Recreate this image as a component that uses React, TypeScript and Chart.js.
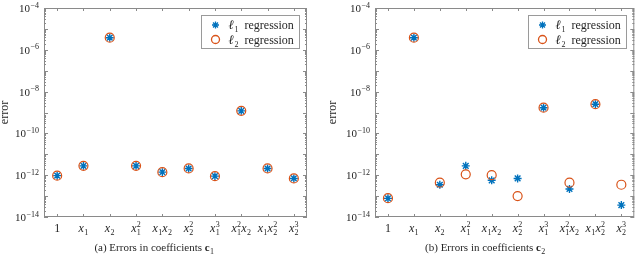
import React, { useEffect, useRef } from 'react';
import { Chart, registerables } from 'chart.js';

Chart.register(...registerables);

// ---------- data ----------
const categories = ['1', 'x_1', 'x_2', 'x_1^2', 'x_1x_2', 'x_2^2', 'x_1^3', 'x_1^2x_2', 'x_1x_2^2', 'x_2^3'];

// Panel (a): errors in coefficients c1
const c1L1 = [9.5e-13, 2.8e-12, 3.8e-6, 2.8e-12, 1.4e-12, 2.1e-12, 9e-13, 1.2e-9, 2.1e-12, 7e-13];
const c1L2 = [9.5e-13, 2.8e-12, 3.8e-6, 2.8e-12, 1.4e-12, 2.1e-12, 9e-13, 1.2e-9, 2.1e-12, 7e-13];

// Panel (b): errors in coefficients c2
const c2L1 = [7.8e-14, 3.8e-6, 3.5e-13, 2.8e-12, 5.7e-13, 7e-13, 1.7e-9, 2.2e-13, 2.5e-9, 3.7e-14];
const c2L2 = [8e-14, 3.8e-6, 4.4e-13, 1.1e-12, 1.0e-12, 1.0e-13, 1.7e-9, 4.4e-13, 2.5e-9, 3.5e-13];

const yMin = 1e-14;
const yMax = 1e-4;
const yLabelExponents = [-14, -12, -10, -8, -6, -4];
const seriesSubscripts = ['1', '2'];
const seriesName = 'regression';
const yTitle = 'error';
const captionTags = ['(a)', '(b)'];
const captionText = 'Errors in coefficients';
const captionSubs = ['1', '2'];

// ---------- style ----------
const SERIF = '"Liberation Serif", "DejaVu Serif", serif';
const TEXT = '#262626';
const BOX = '#8a8a8a';
const BLUE = '#0072BD';
const ORANGE = '#D95319';

function drawMathLabel(ctx: CanvasRenderingContext2D, label: string, cx: number, baseline: number, size: number) {
  const re = /([A-Za-z0-9])(?:_(\d))?(?:\^(\d))?/g;
  const parts: { base: string; sub?: string; sup?: string }[] = [];
  let m: RegExpExecArray | null;
  while ((m = re.exec(label))) parts.push({ base: m[1], sub: m[2], sup: m[3] });
  const ss = Math.round(size * 0.7);
  const baseFont = (b: string) => (/[a-z]/i.test(b) ? `italic ${size}px ${SERIF}` : `${size}px ${SERIF}`);
  const scriptFont = `${ss}px ${SERIF}`;
  const widths = parts.map((p) => {
    ctx.font = baseFont(p.base);
    const bw = ctx.measureText(p.base).width;
    ctx.font = scriptFont;
    const sw = Math.max(p.sub ? ctx.measureText(p.sub).width : 0, p.sup ? ctx.measureText(p.sup).width : 0);
    return { bw, sw: sw ? sw + 0.5 : 0 };
  });
  const total = widths.reduce((s, w) => s + w.bw + w.sw, 0);
  let x = cx - total / 2;
  ctx.textAlign = 'left';
  ctx.textBaseline = 'alphabetic';
  parts.forEach((p, i) => {
    ctx.font = baseFont(p.base);
    ctx.fillText(p.base, x, baseline);
    x += widths[i].bw;
    ctx.font = scriptFont;
    if (p.sub) ctx.fillText(p.sub, x + 0.3, baseline + size * 0.28);
    if (p.sup) ctx.fillText(p.sup, x + 0.3, baseline - size * 0.42);
    x += widths[i].sw;
  });
}

function drawStar(ctx: CanvasRenderingContext2D, x: number, y: number, r: number) {
  ctx.beginPath();
  ctx.moveTo(x - r, y); ctx.lineTo(x + r, y);
  ctx.moveTo(x, y - r); ctx.lineTo(x, y + r);
  const d = r * Math.SQRT1_2;
  ctx.moveTo(x - d, y - d); ctx.lineTo(x + d, y + d);
  ctx.moveTo(x - d, y + d); ctx.lineTo(x + d, y - d);
  ctx.stroke();
}

type PanelProps = {
  idx: number;
  l1: number[];
  l2: number[];
  padLeft: number;
  yWidth: number;
  padRight: number;
  titleLH: number;
  captionCenter: number;
};

function Panel({ idx, l1, l2, padLeft, yWidth, padRight, titleLH, captionCenter }: PanelProps) {
  const ref = useRef<HTMLCanvasElement>(null);
  useEffect(() => {
    const decor = {
      id: 'decor' + idx,
      afterDraw(chart: any) {
        const { ctx, chartArea: a, scales } = chart;
        const xs = scales.x;
        const ys = scales.y;
        ctx.save();
        // box
        ctx.strokeStyle = BOX;
        ctx.lineWidth = 1;
        ctx.strokeRect(a.left + 0.5, a.top + 0.5, a.right - a.left - 1, a.bottom - a.top - 1);
        // inward ticks
        ctx.beginPath();
        for (let e = -14; e <= -4; e++) {
          for (let k = 1; k <= 9; k++) {
            if (e === -4 && k > 1) break;
            const py = Math.round(ys.getPixelForValue(k * Math.pow(10, e))) + 0.5;
            const len = k === 1 ? 4 : 2;
            ctx.moveTo(a.left, py); ctx.lineTo(a.left + len, py);
            ctx.moveTo(a.right, py); ctx.lineTo(a.right - len, py);
          }
        }
        for (let i = 0; i < categories.length; i++) {
          const px = Math.round(xs.getPixelForTick(i)) + 0.5;
          ctx.moveTo(px, a.bottom); ctx.lineTo(px, a.bottom - 3);
          ctx.moveTo(px, a.top); ctx.lineTo(px, a.top + 3);
        }
        ctx.stroke();
        ctx.fillStyle = TEXT;
        // y tick labels: 10^e
        ctx.textBaseline = 'alphabetic';
        yLabelExponents.forEach((e) => {
          const py = ys.getPixelForValue(Math.pow(10, e));
          const exp = '\u2212' + String(Math.abs(e));
          ctx.font = `8px ${SERIF}`;
          const ew = ctx.measureText(exp).width;
          ctx.textAlign = 'right';
          const right = a.left - 5;
          ctx.fillText(exp, right, py - 0.5);
          ctx.font = `11px ${SERIF}`;
          ctx.fillText('10', right - ew - 0.5, py + 4);
        });
        // x tick labels
        for (let i = 0; i < categories.length; i++) {
          drawMathLabel(ctx, categories[i], xs.getPixelForTick(i), a.bottom + 15, 12);
        }
        // legend
        const bw = 98, bh = 33;
        const bx = Math.round(a.right - 8 - bw) + 0.5;
        const by = Math.round(a.top + 7) + 0.5;
        ctx.fillStyle = '#ffffff';
        ctx.fillRect(bx, by, bw, bh);
        ctx.strokeStyle = '#9a9a9a';
        ctx.lineWidth = 1;
        ctx.strokeRect(bx, by, bw, bh);
        const rows = [by + 9.5, by + 24];
        ctx.strokeStyle = BLUE;
        ctx.lineWidth = 1.3;
        drawStar(ctx, bx + 14, rows[0], 3.5);
        ctx.strokeStyle = ORANGE;
        ctx.beginPath();
        ctx.arc(bx + 14, rows[1], 4, 0, Math.PI * 2);
        ctx.stroke();
        ctx.fillStyle = TEXT;
        ctx.textAlign = 'left';
        ctx.textBaseline = 'alphabetic';
        rows.forEach((ry, r) => {
          const base = ry + 4;
          ctx.font = `italic 13px ${SERIF}`;
          ctx.fillText('\u2113', bx + 27, base);
          const lw = ctx.measureText('\u2113').width;
          ctx.font = `8px ${SERIF}`;
          ctx.fillText(seriesSubscripts[r], bx + 27 + lw + 0.5, base + 3);
          ctx.font = `12px ${SERIF}`;
          ctx.fillText(seriesName, bx + 43, base);
        });
        // caption
        const capBase = 251;
        const t1 = `${captionTags[idx]} ${captionText} `;
        ctx.font = `11px ${SERIF}`;
        const w1 = ctx.measureText(t1).width;
        ctx.font = `bold 11px ${SERIF}`;
        const w2 = ctx.measureText('c').width;
        ctx.font = `8px ${SERIF}`;
        const w3 = ctx.measureText(captionSubs[idx]).width;
        let cx = captionCenter - (w1 + w2 + w3) / 2;
        ctx.font = `11px ${SERIF}`;
        ctx.fillText(t1, cx, capBase);
        cx += w1;
        ctx.font = `bold 11px ${SERIF}`;
        ctx.fillText('c', cx, capBase);
        cx += w2;
        ctx.font = `8px ${SERIF}`;
        ctx.fillText(captionSubs[idx], cx + 0.3, capBase + 2.5);
        ctx.restore();
      },
    };

    const chart = new Chart(ref.current as HTMLCanvasElement, {
      type: 'line',
      data: {
        labels: categories,
        datasets: [
          {
            label: 'l1',
            data: l1,
            showLine: false,
            pointStyle: 'star',
            pointRadius: 4,
            pointBorderWidth: 1.4,
            borderColor: BLUE,
            backgroundColor: BLUE,
            order: 1,
          },
          {
            label: 'l2',
            data: l2,
            showLine: false,
            pointStyle: 'circle',
            pointRadius: 4.5,
            pointBorderWidth: 1.2,
            borderColor: ORANGE,
            backgroundColor: 'rgba(0,0,0,0)',
            order: 0,
          },
        ],
      },
      options: {
        responsive: false,
        animation: false,
        events: [],
        layout: { padding: { top: 8, bottom: 0, left: padLeft, right: padRight } },
        plugins: { legend: { display: false }, tooltip: { enabled: false }, title: { display: false } },
        scales: {
          x: {
            type: 'category',
            offset: true,
            grid: { display: false, drawTicks: false, tickLength: 0 },
            border: { display: false },
            ticks: { display: false },
            afterFit: (s: any) => { s.height = 37; },
          },
          y: {
            type: 'logarithmic',
            min: yMin,
            max: yMax,
            grid: { display: false, drawTicks: false, tickLength: 0 },
            border: { display: false },
            ticks: { display: false },
            title: {
              display: true,
              text: yTitle,
              color: TEXT,
              padding: { top: 0, bottom: 0 },
              font: { family: SERIF, size: 12, lineHeight: titleLH },
            },
            afterFit: (s: any) => { s.width = yWidth; },
          },
        },
      } as any,
      plugins: [decor],
    });
    return () => chart.destroy();
  }, []);
  return <canvas ref={ref} width={320} height={254} style={{ display: 'block', width: 320, height: 254 }} />;
}

export default function App() {
  return (
    <div style={{ position: 'absolute', left: 0, top: 0, width: 640, height: 254, display: 'flex', background: '#fff' }}>
      <Panel idx={0} l1={c1L1} l2={c1L2} padLeft={0} yWidth={44} padRight={13} titleLH={0.75} captionCenter={154} />
      <Panel idx={1} l1={c2L1} l2={c2L2} padLeft={6} yWidth={49} padRight={2} titleLH={1.2} captionCenter={165} />
    </div>
  );
}
